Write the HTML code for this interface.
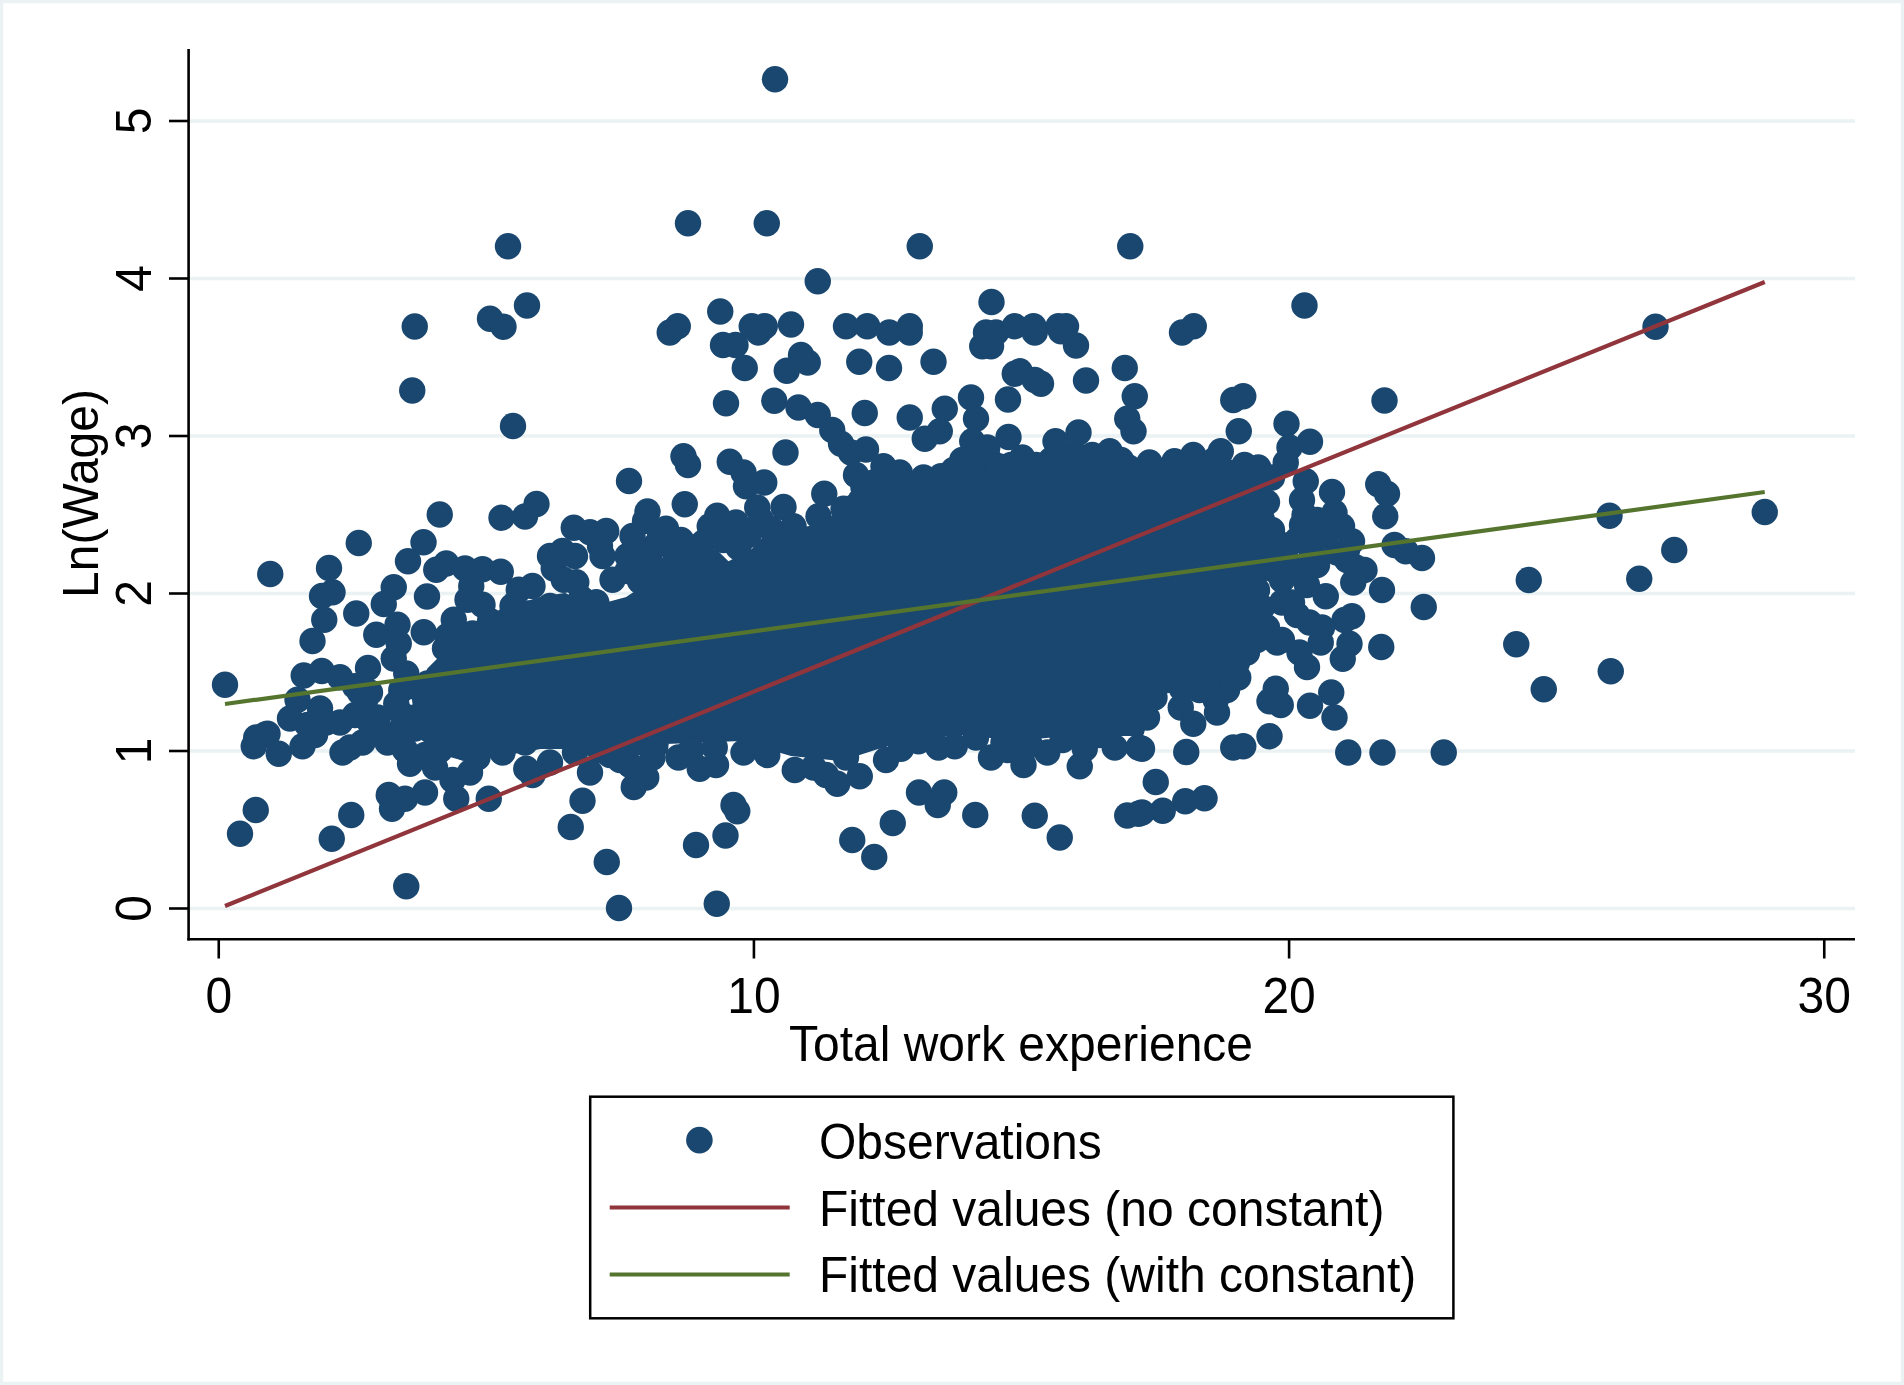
<!DOCTYPE html>
<html><head><meta charset="utf-8"><title>Scatter</title>
<style>html,body{margin:0;padding:0;background:#fff;}body{width:1904px;height:1385px;overflow:hidden;}svg{display:block;}text{font-family:"Liberation Sans",sans-serif;fill:#000;}</style></head><body>
<svg width="1904" height="1385" viewBox="0 0 1904 1385">
<rect x="0" y="0" width="1904" height="1385" fill="#eaf2f3"/>
<rect x="3.2" y="3.2" width="1897.6" height="1378.6" fill="#fff"/>
<line x1="190" x2="1855" y1="908.5" y2="908.5" stroke="#eaf2f3" stroke-width="3.7"/>
<line x1="190" x2="1855" y1="751" y2="751" stroke="#eaf2f3" stroke-width="3.7"/>
<line x1="190" x2="1855" y1="593.5" y2="593.5" stroke="#eaf2f3" stroke-width="3.7"/>
<line x1="190" x2="1855" y1="436" y2="436" stroke="#eaf2f3" stroke-width="3.7"/>
<line x1="190" x2="1855" y1="278.5" y2="278.5" stroke="#eaf2f3" stroke-width="3.7"/>
<line x1="190" x2="1855" y1="121" y2="121" stroke="#eaf2f3" stroke-width="3.7"/>
<polygon points="440,660 460,640 477,625 502,612 540,600 565,596 590,610 627,600 665,575 666,545 691,553 716,553 728,565 753,552 766,538 791,532 816,528 841,515 866,497 891,480 916,480 953,468 991,462 1041,462 1091,460 1141,468 1142,462 1192,460 1224,460 1262,474 1268,494 1270,520 1268,544 1262,569 1254,606 1265,640 1247,662 1242,680 1217,690 1180,680 1150,700 1141,733 1066,733 1016,738 966,732 916,735 878,746 841,758 791,753 741,738 666,741 665,751 615,753 577,746 540,746 502,753 465,758 440,751 420,735 415,700 430,670" fill="#1a476f" stroke="#1a476f" stroke-width="6" stroke-linejoin="round"/>
<g fill="#1a476f">
<circle cx="508" cy="246.25" r="13.2"/>
<circle cx="527" cy="305.5" r="13.2"/>
<circle cx="490" cy="318.75" r="13.2"/>
<circle cx="503.5" cy="326.75" r="13.2"/>
<circle cx="414.75" cy="326.5" r="13.2"/>
<circle cx="412.25" cy="390.5" r="13.2"/>
<circle cx="513" cy="426" r="13.2"/>
<circle cx="629" cy="481" r="13.2"/>
<circle cx="536.5" cy="504" r="13.2"/>
<circle cx="525" cy="516.5" r="13.2"/>
<circle cx="501.5" cy="517.75" r="13.2"/>
<circle cx="439.75" cy="514.5" r="13.2"/>
<circle cx="647.5" cy="511.5" r="13.2"/>
<circle cx="358.75" cy="543" r="13.2"/>
<circle cx="423.5" cy="542.25" r="13.2"/>
<circle cx="408" cy="561.25" r="13.2"/>
<circle cx="573.75" cy="527.75" r="13.2"/>
<circle cx="590" cy="532.25" r="13.2"/>
<circle cx="606.25" cy="531" r="13.2"/>
<circle cx="270.25" cy="574" r="13.2"/>
<circle cx="329" cy="568" r="13.2"/>
<circle cx="332.5" cy="592.25" r="13.2"/>
<circle cx="322" cy="596" r="13.2"/>
<circle cx="324.25" cy="619.75" r="13.2"/>
<circle cx="356.25" cy="613.5" r="13.2"/>
<circle cx="312.5" cy="641" r="13.2"/>
<circle cx="393.75" cy="587.25" r="13.2"/>
<circle cx="383.75" cy="604" r="13.2"/>
<circle cx="427" cy="596.5" r="13.2"/>
<circle cx="436.25" cy="569.75" r="13.2"/>
<circle cx="446.25" cy="563.5" r="13.2"/>
<circle cx="465" cy="568.5" r="13.2"/>
<circle cx="482.5" cy="569.25" r="13.2"/>
<circle cx="500.75" cy="571.75" r="13.2"/>
<circle cx="471.25" cy="586" r="13.2"/>
<circle cx="467.5" cy="599.75" r="13.2"/>
<circle cx="482.5" cy="604.75" r="13.2"/>
<circle cx="397.5" cy="624.75" r="13.2"/>
<circle cx="376.25" cy="634.75" r="13.2"/>
<circle cx="423.75" cy="632.25" r="13.2"/>
<circle cx="398.75" cy="643.5" r="13.2"/>
<circle cx="393.75" cy="658.5" r="13.2"/>
<circle cx="406.25" cy="673.5" r="13.2"/>
<circle cx="368" cy="668" r="13.2"/>
<circle cx="225" cy="684.75" r="13.2"/>
<circle cx="303.75" cy="675.5" r="13.2"/>
<circle cx="321.75" cy="671" r="13.2"/>
<circle cx="340" cy="677.25" r="13.2"/>
<circle cx="297.5" cy="699.75" r="13.2"/>
<circle cx="320" cy="708.5" r="13.2"/>
<circle cx="290" cy="718.5" r="13.2"/>
<circle cx="265" cy="734.75" r="13.2"/>
<circle cx="550" cy="556" r="13.2"/>
<circle cx="562.5" cy="551" r="13.2"/>
<circle cx="575" cy="556" r="13.2"/>
<circle cx="553.75" cy="568.5" r="13.2"/>
<circle cx="563.75" cy="579.75" r="13.2"/>
<circle cx="518.75" cy="589.75" r="13.2"/>
<circle cx="532.5" cy="586" r="13.2"/>
<circle cx="512.5" cy="606" r="13.2"/>
<circle cx="550" cy="606" r="13.2"/>
<circle cx="453.75" cy="619.75" r="13.2"/>
<circle cx="490" cy="621" r="13.2"/>
<circle cx="447.5" cy="636" r="13.2"/>
<circle cx="445" cy="648.5" r="13.2"/>
<circle cx="460" cy="646" r="13.2"/>
<circle cx="581.25" cy="598.5" r="13.2"/>
<circle cx="596.25" cy="602.25" r="13.2"/>
<circle cx="600" cy="546" r="13.2"/>
<circle cx="602.5" cy="556" r="13.2"/>
<circle cx="612.5" cy="579.75" r="13.2"/>
<circle cx="627.5" cy="556" r="13.2"/>
<circle cx="632.5" cy="536" r="13.2"/>
<circle cx="645" cy="521" r="13.2"/>
<circle cx="655" cy="546" r="13.2"/>
<circle cx="256.25" cy="737.5" r="13.2"/>
<circle cx="267.5" cy="733.75" r="13.2"/>
<circle cx="253.75" cy="746.25" r="13.2"/>
<circle cx="278.75" cy="753.75" r="13.2"/>
<circle cx="302.5" cy="746.25" r="13.2"/>
<circle cx="315" cy="735" r="13.2"/>
<circle cx="307.5" cy="725" r="13.2"/>
<circle cx="342.5" cy="752.5" r="13.2"/>
<circle cx="340" cy="722.5" r="13.2"/>
<circle cx="355" cy="715" r="13.2"/>
<circle cx="365" cy="712.5" r="13.2"/>
<circle cx="370" cy="722.5" r="13.2"/>
<circle cx="362.5" cy="742.5" r="13.2"/>
<circle cx="350" cy="747.5" r="13.2"/>
<circle cx="360" cy="692.5" r="13.2"/>
<circle cx="365" cy="700" r="13.2"/>
<circle cx="396.25" cy="703.75" r="13.2"/>
<circle cx="402.5" cy="715" r="13.2"/>
<circle cx="387.5" cy="742.5" r="13.2"/>
<circle cx="397.5" cy="732.5" r="13.2"/>
<circle cx="405" cy="750" r="13.2"/>
<circle cx="410" cy="763.75" r="13.2"/>
<circle cx="425" cy="755" r="13.2"/>
<circle cx="435" cy="767.5" r="13.2"/>
<circle cx="452.5" cy="780" r="13.2"/>
<circle cx="470" cy="772.5" r="13.2"/>
<circle cx="456.25" cy="798.75" r="13.2"/>
<circle cx="425" cy="792.5" r="13.2"/>
<circle cx="405" cy="798.75" r="13.2"/>
<circle cx="388.75" cy="795" r="13.2"/>
<circle cx="392" cy="808.75" r="13.2"/>
<circle cx="488.75" cy="798.75" r="13.2"/>
<circle cx="351.25" cy="815" r="13.2"/>
<circle cx="331.75" cy="838.75" r="13.2"/>
<circle cx="255.75" cy="810" r="13.2"/>
<circle cx="240" cy="833.75" r="13.2"/>
<circle cx="406.25" cy="886.25" r="13.2"/>
<circle cx="532.5" cy="775" r="13.2"/>
<circle cx="526.25" cy="768.75" r="13.2"/>
<circle cx="550" cy="762.5" r="13.2"/>
<circle cx="590" cy="772.5" r="13.2"/>
<circle cx="582.5" cy="800.75" r="13.2"/>
<circle cx="570.75" cy="827" r="13.2"/>
<circle cx="606.75" cy="862" r="13.2"/>
<circle cx="619" cy="908" r="13.2"/>
<circle cx="633.75" cy="787" r="13.2"/>
<circle cx="646.25" cy="777.5" r="13.2"/>
<circle cx="652.5" cy="757.5" r="13.2"/>
<circle cx="630" cy="765" r="13.2"/>
<circle cx="575" cy="752.5" r="13.2"/>
<circle cx="502.5" cy="752.5" r="13.2"/>
<circle cx="525" cy="742.5" r="13.2"/>
<circle cx="477.5" cy="757.5" r="13.2"/>
<circle cx="465" cy="747.5" r="13.2"/>
<circle cx="775" cy="79.25" r="13.2"/>
<circle cx="688" cy="223.25" r="13.2"/>
<circle cx="766.75" cy="223.25" r="13.2"/>
<circle cx="919.75" cy="246.25" r="13.2"/>
<circle cx="1130.25" cy="246.25" r="13.2"/>
<circle cx="817.75" cy="281.25" r="13.2"/>
<circle cx="991.5" cy="302" r="13.2"/>
<circle cx="720.25" cy="311.5" r="13.2"/>
<circle cx="677.75" cy="326.25" r="13.2"/>
<circle cx="669.75" cy="332.5" r="13.2"/>
<circle cx="751.75" cy="326.25" r="13.2"/>
<circle cx="764.75" cy="326.25" r="13.2"/>
<circle cx="758.5" cy="332.5" r="13.2"/>
<circle cx="791" cy="324.5" r="13.2"/>
<circle cx="846" cy="326.25" r="13.2"/>
<circle cx="867.25" cy="326.25" r="13.2"/>
<circle cx="889.25" cy="332.5" r="13.2"/>
<circle cx="909.75" cy="326.25" r="13.2"/>
<circle cx="909.75" cy="332.5" r="13.2"/>
<circle cx="723" cy="345" r="13.2"/>
<circle cx="735.5" cy="345" r="13.2"/>
<circle cx="986" cy="332.5" r="13.2"/>
<circle cx="996" cy="332.5" r="13.2"/>
<circle cx="982.25" cy="346.25" r="13.2"/>
<circle cx="991" cy="346.25" r="13.2"/>
<circle cx="1014.75" cy="326.25" r="13.2"/>
<circle cx="1033.5" cy="326.25" r="13.2"/>
<circle cx="1034.75" cy="332.5" r="13.2"/>
<circle cx="1058.5" cy="326.25" r="13.2"/>
<circle cx="1066" cy="326.25" r="13.2"/>
<circle cx="1061" cy="331.25" r="13.2"/>
<circle cx="1076" cy="345.5" r="13.2"/>
<circle cx="801" cy="355" r="13.2"/>
<circle cx="807.75" cy="362.5" r="13.2"/>
<circle cx="786.75" cy="370.75" r="13.2"/>
<circle cx="744.75" cy="368" r="13.2"/>
<circle cx="859.25" cy="361.75" r="13.2"/>
<circle cx="889" cy="368" r="13.2"/>
<circle cx="933.5" cy="361.75" r="13.2"/>
<circle cx="1014.75" cy="373.75" r="13.2"/>
<circle cx="1019.75" cy="371.25" r="13.2"/>
<circle cx="1034.75" cy="380" r="13.2"/>
<circle cx="1041" cy="383.75" r="13.2"/>
<circle cx="1086" cy="380.5" r="13.2"/>
<circle cx="1124.75" cy="368" r="13.2"/>
<circle cx="726" cy="403.25" r="13.2"/>
<circle cx="774.25" cy="400.75" r="13.2"/>
<circle cx="798.5" cy="407.5" r="13.2"/>
<circle cx="817.75" cy="415" r="13.2"/>
<circle cx="832.25" cy="430" r="13.2"/>
<circle cx="841" cy="443.75" r="13.2"/>
<circle cx="864.75" cy="413" r="13.2"/>
<circle cx="866" cy="449.5" r="13.2"/>
<circle cx="851" cy="452.5" r="13.2"/>
<circle cx="909.75" cy="417.5" r="13.2"/>
<circle cx="944.75" cy="408.75" r="13.2"/>
<circle cx="924.75" cy="438.75" r="13.2"/>
<circle cx="939.75" cy="431.25" r="13.2"/>
<circle cx="971" cy="397.5" r="13.2"/>
<circle cx="976" cy="418.75" r="13.2"/>
<circle cx="1008" cy="399.5" r="13.2"/>
<circle cx="972.25" cy="441.25" r="13.2"/>
<circle cx="987.25" cy="447.5" r="13.2"/>
<circle cx="1008.5" cy="437" r="13.2"/>
<circle cx="1078.5" cy="432.5" r="13.2"/>
<circle cx="1055.5" cy="441.25" r="13.2"/>
<circle cx="1134.75" cy="396.25" r="13.2"/>
<circle cx="1127.25" cy="418.75" r="13.2"/>
<circle cx="1133.5" cy="431.25" r="13.2"/>
<circle cx="683.5" cy="456.25" r="13.2"/>
<circle cx="688" cy="465" r="13.2"/>
<circle cx="729.75" cy="461.75" r="13.2"/>
<circle cx="743.5" cy="472.5" r="13.2"/>
<circle cx="746" cy="486.25" r="13.2"/>
<circle cx="764.25" cy="482.5" r="13.2"/>
<circle cx="785.5" cy="452.5" r="13.2"/>
<circle cx="684.75" cy="504.25" r="13.2"/>
<circle cx="824.25" cy="493.75" r="13.2"/>
<circle cx="818.5" cy="516.25" r="13.2"/>
<circle cx="843.5" cy="508.75" r="13.2"/>
<circle cx="783.5" cy="507" r="13.2"/>
<circle cx="757.25" cy="507.5" r="13.2"/>
<circle cx="793.5" cy="526.25" r="13.2"/>
<circle cx="717.25" cy="515.75" r="13.2"/>
<circle cx="709.75" cy="526.25" r="13.2"/>
<circle cx="736" cy="522.5" r="13.2"/>
<circle cx="748.5" cy="535" r="13.2"/>
<circle cx="738.5" cy="547.5" r="13.2"/>
<circle cx="666" cy="528.75" r="13.2"/>
<circle cx="672.25" cy="542.5" r="13.2"/>
<circle cx="691" cy="547.5" r="13.2"/>
<circle cx="856" cy="475" r="13.2"/>
<circle cx="863.5" cy="487.5" r="13.2"/>
<circle cx="873.5" cy="482.5" r="13.2"/>
<circle cx="883.5" cy="466.25" r="13.2"/>
<circle cx="899.75" cy="472.5" r="13.2"/>
<circle cx="923.5" cy="477.5" r="13.2"/>
<circle cx="941" cy="476.25" r="13.2"/>
<circle cx="962.25" cy="460" r="13.2"/>
<circle cx="988.5" cy="458.75" r="13.2"/>
<circle cx="1022.25" cy="457.5" r="13.2"/>
<circle cx="1051" cy="460" r="13.2"/>
<circle cx="1059.75" cy="450" r="13.2"/>
<circle cx="1092.25" cy="455" r="13.2"/>
<circle cx="1109.75" cy="451.25" r="13.2"/>
<circle cx="1121" cy="460" r="13.2"/>
<circle cx="1141" cy="472.5" r="13.2"/>
<circle cx="678.5" cy="757.5" r="13.2"/>
<circle cx="699.75" cy="768.75" r="13.2"/>
<circle cx="716" cy="765" r="13.2"/>
<circle cx="714.75" cy="747.5" r="13.2"/>
<circle cx="691" cy="750" r="13.2"/>
<circle cx="743.5" cy="752.5" r="13.2"/>
<circle cx="767.25" cy="755" r="13.2"/>
<circle cx="753.5" cy="740" r="13.2"/>
<circle cx="794.75" cy="770" r="13.2"/>
<circle cx="813.5" cy="767.5" r="13.2"/>
<circle cx="826" cy="775" r="13.2"/>
<circle cx="837.25" cy="783.75" r="13.2"/>
<circle cx="859.75" cy="776.25" r="13.2"/>
<circle cx="846" cy="757.5" r="13.2"/>
<circle cx="886" cy="760" r="13.2"/>
<circle cx="901" cy="748.75" r="13.2"/>
<circle cx="918.5" cy="741.25" r="13.2"/>
<circle cx="938.5" cy="747.5" r="13.2"/>
<circle cx="954.75" cy="746.25" r="13.2"/>
<circle cx="991" cy="757.5" r="13.2"/>
<circle cx="976" cy="737.5" r="13.2"/>
<circle cx="1023.5" cy="765" r="13.2"/>
<circle cx="1016" cy="750" r="13.2"/>
<circle cx="1003.5" cy="742.5" r="13.2"/>
<circle cx="1047.25" cy="752.5" r="13.2"/>
<circle cx="1079.75" cy="766.25" r="13.2"/>
<circle cx="1084.75" cy="748.75" r="13.2"/>
<circle cx="1114.75" cy="747.5" r="13.2"/>
<circle cx="1138.5" cy="747.5" r="13.2"/>
<circle cx="1128.5" cy="718.75" r="13.2"/>
<circle cx="733.5" cy="805" r="13.2"/>
<circle cx="737.25" cy="811.25" r="13.2"/>
<circle cx="725.5" cy="835.5" r="13.2"/>
<circle cx="696" cy="845" r="13.2"/>
<circle cx="716.75" cy="903.75" r="13.2"/>
<circle cx="852.25" cy="840" r="13.2"/>
<circle cx="874.25" cy="857" r="13.2"/>
<circle cx="892.75" cy="823" r="13.2"/>
<circle cx="919" cy="792.5" r="13.2"/>
<circle cx="944.25" cy="792.5" r="13.2"/>
<circle cx="937.75" cy="805" r="13.2"/>
<circle cx="975.25" cy="815" r="13.2"/>
<circle cx="1034.75" cy="815.75" r="13.2"/>
<circle cx="1059.75" cy="837.5" r="13.2"/>
<circle cx="1127.25" cy="815.5" r="13.2"/>
<circle cx="1138.5" cy="813.75" r="13.2"/>
<circle cx="1304.5" cy="305.5" r="13.2"/>
<circle cx="1193.75" cy="326.25" r="13.2"/>
<circle cx="1182" cy="332.5" r="13.2"/>
<circle cx="1243.25" cy="396.25" r="13.2"/>
<circle cx="1233.25" cy="400" r="13.2"/>
<circle cx="1384.5" cy="400.5" r="13.2"/>
<circle cx="1238.75" cy="431.25" r="13.2"/>
<circle cx="1286.5" cy="423.75" r="13.2"/>
<circle cx="1310" cy="441.75" r="13.2"/>
<circle cx="1289.5" cy="447.5" r="13.2"/>
<circle cx="1285.75" cy="462.5" r="13.2"/>
<circle cx="1149.5" cy="462.5" r="13.2"/>
<circle cx="1174.5" cy="461.25" r="13.2"/>
<circle cx="1193.25" cy="455" r="13.2"/>
<circle cx="1220.75" cy="451.25" r="13.2"/>
<circle cx="1214.5" cy="460" r="13.2"/>
<circle cx="1244.5" cy="465" r="13.2"/>
<circle cx="1258.25" cy="467.5" r="13.2"/>
<circle cx="1305.75" cy="481.25" r="13.2"/>
<circle cx="1332" cy="492" r="13.2"/>
<circle cx="1302" cy="500" r="13.2"/>
<circle cx="1334.5" cy="512.5" r="13.2"/>
<circle cx="1342" cy="526.25" r="13.2"/>
<circle cx="1352" cy="541.25" r="13.2"/>
<circle cx="1302" cy="525" r="13.2"/>
<circle cx="1317" cy="537.5" r="13.2"/>
<circle cx="1378.25" cy="484.25" r="13.2"/>
<circle cx="1387" cy="493.75" r="13.2"/>
<circle cx="1385.25" cy="516.25" r="13.2"/>
<circle cx="1394.5" cy="545" r="13.2"/>
<circle cx="1405.75" cy="551.25" r="13.2"/>
<circle cx="1422" cy="558" r="13.2"/>
<circle cx="1609.5" cy="515.75" r="13.2"/>
<circle cx="1528.75" cy="580" r="13.2"/>
<circle cx="1423.75" cy="607" r="13.2"/>
<circle cx="1382" cy="590" r="13.2"/>
<circle cx="1355.75" cy="567.5" r="13.2"/>
<circle cx="1364.5" cy="570" r="13.2"/>
<circle cx="1353.25" cy="582.5" r="13.2"/>
<circle cx="1347" cy="560" r="13.2"/>
<circle cx="1325.75" cy="596.25" r="13.2"/>
<circle cx="1307" cy="585" r="13.2"/>
<circle cx="1292" cy="602.5" r="13.2"/>
<circle cx="1352" cy="616.25" r="13.2"/>
<circle cx="1344.5" cy="620" r="13.2"/>
<circle cx="1309.5" cy="622.5" r="13.2"/>
<circle cx="1322" cy="627.5" r="13.2"/>
<circle cx="1320.75" cy="642.5" r="13.2"/>
<circle cx="1349.5" cy="643.75" r="13.2"/>
<circle cx="1342.75" cy="658.75" r="13.2"/>
<circle cx="1381.25" cy="647" r="13.2"/>
<circle cx="1516.25" cy="644.25" r="13.2"/>
<circle cx="1610.75" cy="671.25" r="13.2"/>
<circle cx="1543.75" cy="689.25" r="13.2"/>
<circle cx="1277" cy="642.5" r="13.2"/>
<circle cx="1267" cy="627.5" r="13.2"/>
<circle cx="1299.5" cy="652.5" r="13.2"/>
<circle cx="1307" cy="667" r="13.2"/>
<circle cx="1275.75" cy="688.75" r="13.2"/>
<circle cx="1269.5" cy="701.25" r="13.2"/>
<circle cx="1280.75" cy="705" r="13.2"/>
<circle cx="1331.25" cy="692.5" r="13.2"/>
<circle cx="1310" cy="705.75" r="13.2"/>
<circle cx="1334.5" cy="717.5" r="13.2"/>
<circle cx="1269.5" cy="736.25" r="13.2"/>
<circle cx="1238.25" cy="677.5" r="13.2"/>
<circle cx="1227" cy="690" r="13.2"/>
<circle cx="1215.75" cy="700" r="13.2"/>
<circle cx="1217" cy="712.5" r="13.2"/>
<circle cx="1182" cy="688.75" r="13.2"/>
<circle cx="1180.75" cy="707.5" r="13.2"/>
<circle cx="1193.25" cy="723.75" r="13.2"/>
<circle cx="1147" cy="717.5" r="13.2"/>
<circle cx="1154.5" cy="697.5" r="13.2"/>
<circle cx="1304.5" cy="515" r="13.2"/>
<circle cx="1317" cy="520" r="13.2"/>
<circle cx="1329.5" cy="530" r="13.2"/>
<circle cx="1297" cy="540" r="13.2"/>
<circle cx="1312" cy="552.5" r="13.2"/>
<circle cx="1292" cy="565" r="13.2"/>
<circle cx="1304.5" cy="570" r="13.2"/>
<circle cx="1282" cy="580" r="13.2"/>
<circle cx="1317" cy="565" r="13.2"/>
<circle cx="1337" cy="552.5" r="13.2"/>
<circle cx="1347" cy="550" r="13.2"/>
<circle cx="1282" cy="602.5" r="13.2"/>
<circle cx="1297" cy="615" r="13.2"/>
<circle cx="1282" cy="640" r="13.2"/>
<circle cx="1272" cy="477.5" r="13.2"/>
<circle cx="1267" cy="502.5" r="13.2"/>
<circle cx="1262" cy="520" r="13.2"/>
<circle cx="1272" cy="530" r="13.2"/>
<circle cx="1282" cy="545" r="13.2"/>
<circle cx="1267" cy="550" r="13.2"/>
<circle cx="1259.5" cy="570" r="13.2"/>
<circle cx="1274.5" cy="570" r="13.2"/>
<circle cx="1257" cy="590" r="13.2"/>
<circle cx="1262" cy="607.5" r="13.2"/>
<circle cx="1249.5" cy="622.5" r="13.2"/>
<circle cx="1257" cy="640" r="13.2"/>
<circle cx="1247" cy="652.5" r="13.2"/>
<circle cx="1237" cy="662.5" r="13.2"/>
<circle cx="1224.5" cy="672.5" r="13.2"/>
<circle cx="1207" cy="680" r="13.2"/>
<circle cx="1199.5" cy="690" r="13.2"/>
<circle cx="1167" cy="680" r="13.2"/>
<circle cx="1152" cy="680" r="13.2"/>
<circle cx="1184.5" cy="670" r="13.2"/>
<circle cx="1142" cy="748.75" r="13.2"/>
<circle cx="1186.25" cy="752" r="13.2"/>
<circle cx="1233.25" cy="747.5" r="13.2"/>
<circle cx="1243.25" cy="746.25" r="13.2"/>
<circle cx="1348.25" cy="752.5" r="13.2"/>
<circle cx="1382.5" cy="752.5" r="13.2"/>
<circle cx="1443.75" cy="752.5" r="13.2"/>
<circle cx="1155.75" cy="782" r="13.2"/>
<circle cx="1204.5" cy="798.25" r="13.2"/>
<circle cx="1185.25" cy="801.25" r="13.2"/>
<circle cx="1162.75" cy="810.75" r="13.2"/>
<circle cx="1142" cy="812.5" r="13.2"/>
<circle cx="1655.5" cy="326.75" r="13.2"/>
<circle cx="1764.75" cy="512" r="13.2"/>
<circle cx="1674.25" cy="550" r="13.2"/>
<circle cx="1639.25" cy="578.75" r="13.2"/>
<circle cx="355" cy="686.25" r="13.2"/>
<circle cx="370" cy="692.5" r="13.2"/>
<circle cx="372.5" cy="727.5" r="13.2"/>
<circle cx="377.5" cy="717.5" r="13.2"/>
<circle cx="326.25" cy="722.5" r="13.2"/>
<circle cx="401.25" cy="690" r="13.2"/>
<circle cx="417.5" cy="687.5" r="13.2"/>
<circle cx="415" cy="717.5" r="13.2"/>
<circle cx="440" cy="750" r="13.2"/>
<circle cx="472.5" cy="633.5" r="13.2"/>
<circle cx="485" cy="636" r="13.2"/>
<circle cx="502.5" cy="628.5" r="13.2"/>
<circle cx="515" cy="621" r="13.2"/>
<circle cx="527.5" cy="613.5" r="13.2"/>
<circle cx="627.5" cy="571" r="13.2"/>
<circle cx="640" cy="581" r="13.2"/>
<circle cx="652.5" cy="566" r="13.2"/>
<circle cx="660" cy="578.5" r="13.2"/>
<circle cx="635" cy="551" r="13.2"/>
<circle cx="647.5" cy="556" r="13.2"/>
<circle cx="660" cy="536" r="13.2"/>
<circle cx="576.25" cy="582.25" r="13.2"/>
<circle cx="427.5" cy="683.5" r="13.2"/>
<circle cx="430" cy="696" r="13.2"/>
<circle cx="440" cy="678.5" r="13.2"/>
<circle cx="440" cy="721" r="13.2"/>
<circle cx="425" cy="711" r="13.2"/>
<circle cx="415" cy="728.5" r="13.2"/>
<circle cx="771" cy="528.75" r="13.2"/>
<circle cx="761" cy="520" r="13.2"/>
<circle cx="723.5" cy="540" r="13.2"/>
<circle cx="703.5" cy="542.5" r="13.2"/>
<circle cx="681" cy="540" r="13.2"/>
<circle cx="841" cy="525" r="13.2"/>
<circle cx="853.5" cy="507.5" r="13.2"/>
<circle cx="861" cy="500" r="13.2"/>
<circle cx="878.5" cy="490" r="13.2"/>
<circle cx="891" cy="482.5" r="13.2"/>
<circle cx="906" cy="482.5" r="13.2"/>
<circle cx="953.5" cy="470" r="13.2"/>
<circle cx="973.5" cy="465" r="13.2"/>
<circle cx="998.5" cy="466.25" r="13.2"/>
<circle cx="1011" cy="465" r="13.2"/>
<circle cx="1036" cy="465" r="13.2"/>
<circle cx="1066" cy="462.5" r="13.2"/>
<circle cx="1078.5" cy="462.5" r="13.2"/>
<circle cx="1103.5" cy="462.5" r="13.2"/>
<circle cx="1128.5" cy="467.5" r="13.2"/>
<circle cx="976" cy="455" r="13.2"/>
<circle cx="1076" cy="455" r="13.2"/>
<circle cx="1007.5" cy="750" r="13.2"/>
<circle cx="1030" cy="745" r="13.2"/>
<circle cx="1062.5" cy="740" r="13.2"/>
<circle cx="1100" cy="735" r="13.2"/>
<circle cx="1057.5" cy="725" r="13.2"/>
<circle cx="1015" cy="735" r="13.2"/>
<circle cx="1082.5" cy="732.5" r="13.2"/>
<circle cx="610" cy="755" r="13.2"/>
<circle cx="600" cy="750" r="13.2"/>
<circle cx="620" cy="760" r="13.2"/>
</g>
<line x1="225" y1="906" x2="1764.75" y2="282" stroke="#90353b" stroke-width="4.2"/>
<line x1="225" y1="704" x2="1764.75" y2="492" stroke="#55752f" stroke-width="4.2"/>
<g stroke="#000" stroke-width="2.6" fill="none">
<line x1="188.6" y1="49" x2="188.6" y2="940.5"/>
<line x1="187.3" y1="939.3" x2="1855" y2="939.3"/>
<line x1="169" x2="188" y1="908.5" y2="908.5"/>
<line x1="169" x2="188" y1="751" y2="751"/>
<line x1="169" x2="188" y1="593.5" y2="593.5"/>
<line x1="169" x2="188" y1="436" y2="436"/>
<line x1="169" x2="188" y1="278.5" y2="278.5"/>
<line x1="169" x2="188" y1="121" y2="121"/>
<line x1="218.75" x2="218.75" y1="940" y2="958.5"/>
<line x1="753.92" x2="753.92" y1="940" y2="958.5"/>
<line x1="1289.09" x2="1289.09" y1="940" y2="958.5"/>
<line x1="1824.26" x2="1824.26" y1="940" y2="958.5"/>
</g>
<text transform="translate(218.75,1012.7) scale(1,1.035)" font-size="48" text-anchor="middle">0</text>
<text transform="translate(753.92,1012.7) scale(1,1.035)" font-size="48" text-anchor="middle">10</text>
<text transform="translate(1289.09,1012.7) scale(1,1.035)" font-size="48" text-anchor="middle">20</text>
<text transform="translate(1824.26,1012.7) scale(1,1.035)" font-size="48" text-anchor="middle">30</text>
<text transform="translate(151,908.5) rotate(-90) scale(1,1.035)" font-size="48" text-anchor="middle">0</text>
<text transform="translate(151,751) rotate(-90) scale(1,1.035)" font-size="48" text-anchor="middle">1</text>
<text transform="translate(151,593.5) rotate(-90) scale(1,1.035)" font-size="48" text-anchor="middle">2</text>
<text transform="translate(151,436) rotate(-90) scale(1,1.035)" font-size="48" text-anchor="middle">3</text>
<text transform="translate(151,278.5) rotate(-90) scale(1,1.035)" font-size="48" text-anchor="middle">4</text>
<text transform="translate(151,121) rotate(-90) scale(1,1.035)" font-size="48" text-anchor="middle">5</text>
<text transform="translate(98,493.5) rotate(-90) scale(1,1.035)" font-size="48" text-anchor="middle">Ln(Wage)</text>
<text transform="translate(1021,1061) scale(1,1.035)" font-size="48" text-anchor="middle">Total work experience</text>
<rect x="590.2" y="1096.7" width="863.2" height="221.6" fill="#fff" stroke="#000" stroke-width="2.5"/>
<circle cx="699.4" cy="1140.1" r="13.3" fill="#1a476f"/>
<line x1="609.7" x2="789.7" y1="1207.5" y2="1207.5" stroke="#90353b" stroke-width="4.2"/>
<line x1="609.7" x2="789.7" y1="1274.5" y2="1274.5" stroke="#55752f" stroke-width="4.2"/>
<text transform="translate(819,1159.3) scale(1,1.035)" font-size="48">Observations</text>
<text transform="translate(819,1226.3) scale(1,1.035)" font-size="48">Fitted values (no constant)</text>
<text transform="translate(819,1292.3) scale(1,1.035)" font-size="48">Fitted values (with constant)</text>
</svg></body></html>
